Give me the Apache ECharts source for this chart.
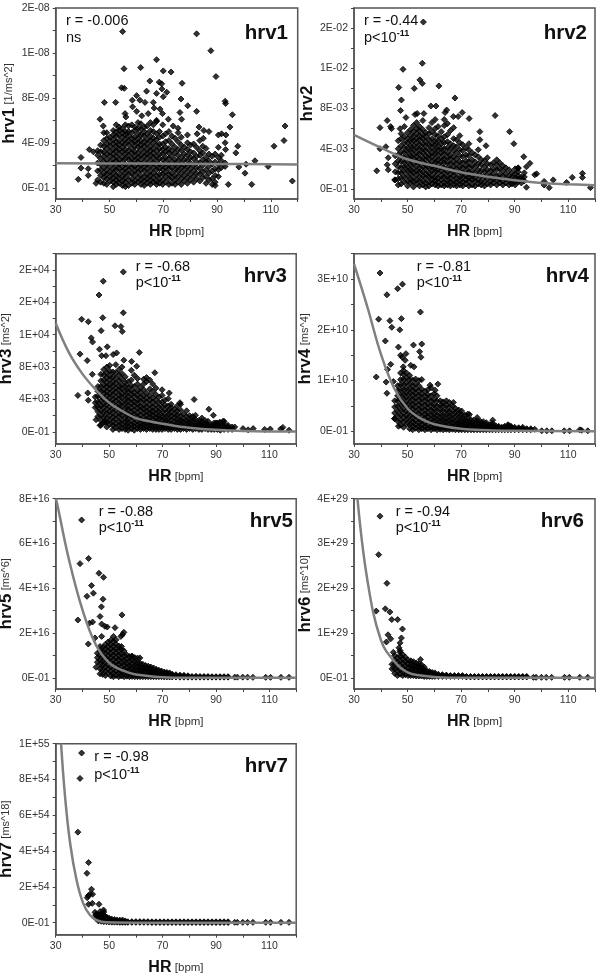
<!DOCTYPE html>
<html><head><meta charset="utf-8">
<style>html,body{margin:0;padding:0;background:#fff}#c{width:600px;height:978px}</style>
<script src="https://cdn.jsdelivr.net/npm/echarts@6/dist/echarts.min.js"></script>
</head><body><div id="c"></div>
<script>
const xMajor=[30,50,70,90,110];
const xTicks=[30,40,50,60,70,80,90,100,110,120];

// ---- hrv1, values in 1e-9 1/ms^2
const hrv1Labels=['0E-01','4E-09','8E-09','1E-08','2E-08'];
const hrv1Major=[0,4,8,12,16];
const hrv1Minor=[0,2,4,6,8,10,12,14,16];
const hrv1Curve=[[30,2.18],[60,2.16],[90,2.12],[120,2.08]];
const hrv1Out=[[54.9,13.9],[82.4,13.7],[87.7,12.2],[55.4,10.6],[61.6,10.7],[67.5,11.4],[70,10.4],[72.9,10.3],[89.6,9.9],[77,9.3],[54.5,8.9],[55.5,8.85],[65,9.5],[68.5,9.4],[69.4,9.25],[63.8,8.6],[67.5,8.4],[69.5,8.8],[71.3,8.5],[70,8.1],[76.6,7.9],[79.1,7.3],[82.4,6.8],[93,7.7],[93.2,7.5],[95.7,6.5],[48.1,7.6],[52.3,7.6],[60.1,8.2],[58.5,7.8],[63.2,7.6],[66.3,7.6],[61.3,7.8],[46.5,6.1],[55.8,6.6],[56.1,6.3],[58.6,7.2],[60.1,6.8],[62,6.4],[64.4,6.6],[66.6,7.1],[68.8,7],[69.7,6.6],[67.5,6],[71.9,6.1],[76.2,6.7],[76.8,6.1],[73.7,5.5],[47.7,5.5],[115.3,5.5],[114.9,4.2],[111.2,3.7],[94.8,5.4],[83.3,5.4],[85.1,5.1],[87,5],[82.6,4.8],[84.9,4.4],[90.5,4.7],[91.7,4.8],[93.3,4.7],[93,4],[93.2,3.4],[90.5,3.6],[97.7,3.7],[97,3.1],[39.4,2.7],[42.5,3.4],[44,3.2],[39.4,1.75],[42.1,1.7],[42.1,1.1],[38.4,.75],[45,.4],[100.8,2.1],[104.1,2.4],[100.4,1.3],[98.1,1.85],[109,1.9],[102.9,.3],[94.2,.3],[118,.6]];
const hrv1Cols=[[45.6,.7,1.5,2.2,2.9,3.3],[46.7,.5,1.1,1.6,2.1,2.6,3.2,3.8],[47.9,.4,.9,1.3,1.8,2.3,2.8,3.2,3.7,4.2,4.9],[49,.3,.8,1.2,1.6,2.1,2.5,3,3.5,3.9,4.4,4.9],[50.2,.6,1,1.4,1.9,2.3,2.8,3.2,3.7,4.1,4.5],[51.4,.1,.5,.9,1.3,1.7,2.2,2.6,3,3.4,3.9,4.3,4.7,5.1],[52.5,.3,.7,1.1,1.6,2,2.4,2.8,3.3,3.7,4.1,4.6,5,5.6],[53.6,.4,.8,1.2,1.7,2.1,2.5,3,3.4,3.8,4.2,4.7,5.1,5.4],[54.8,.2,.6,1,1.5,1.9,2.3,2.7,3.2,3.6,4,4.5,4.9,5.3],[55.9,.1,.5,.9,1.3,1.7,2.1,2.6,3,3.4,3.9,4.3,4.7,5,5.6],[57.1,.2,.7,1.2,1.6,2,2.5,2.9,3.3,3.8,4.2,4.6,5,5.5],[58.3,.4,.8,1.3,1.8,2.2,2.6,3.1,3.5,4,4.4,4.9,5.6],[59.4,.3,.6,1.1,1.5,1.9,2.4,2.8,3.2,3.7,4.1,4.5,5.1,5.4],[60.6,.5,.9,1.4,1.8,2.3,2.7,3.1,3.6,4,4.4,4.8,5.3,5.8],[61.7,.3,.7,1.1,1.6,2,2.5,2.9,3.4,3.8,4.2,4.7,5.2,5.7],[62.9,.2,.6,1,1.5,1.9,2.3,2.8,3.2,3.7,4.1,4.6,5,5.4],[64,.4,.8,1.2,1.7,2.1,2.6,3,3.4,3.9,4.3,4.8,5.5],[65.2,.3,.7,1.1,1.5,2,2.4,2.9,3.3,3.7,4.2,4.6,5.1,5.8],[66.3,.5,.9,1.3,1.8,2.2,2.7,3.1,3.5,4,4.4,5,5.6],[67.5,.3,.6,1.1,1.6,2,2.4,2.8,3.3,3.8,4.3,4.8,5.9],[68.6,.4,.8,1.2,1.7,2.1,2.6,3,3.5,3.9,4.5,5],[69.8,.3,.7,1.2,1.6,2,2.5,3,3.4,3.9,4.6,5.6],[70.9,.5,1,1.4,1.8,2.3,2.7,3.2,3.6,4.1,4.8],[72.1,.3,.8,1.2,1.7,2.1,2.6,3.1,3.5,4.2,5],[73.2,.4,.9,1.3,1.8,2.3,2.8,3.3,3.9,4.6],[74.4,.3,.7,1.1,1.6,2.1,2.5,3.1,3.6,4.4],[75.5,.5,1,1.5,1.9,2.4,2.9,3.4,4.1,4.9,5.3],[76.7,.3,.8,1.3,1.8,2.2,2.7,3.3,3.8,4.5],[77.8,.6,1.1,1.6,2,2.5,3,3.6],[79,.4,.9,1.4,1.9,2.4,2.9,3.4,4,4.7],[80.1,.7,1.2,1.7,2.2,2.7,3.2,3.8],[81.3,.5,1,1.5,2,2.6,3.1,3.9],[82.4,.8,1.3,1.8,2.3,2.8,3.6],[83.6,.6,1.2,1.7,2.2,2.9,3.3,4.2],[84.7,.9,1.4,2,2.5,3.1,3.7],[85.9,.4,1,1.6,2.3,2.7,3.5],[87,.7,1.3,1.9,2.4,3],[88.2,.3,.8,1.5,2.1,2.8],[89.3,.2,.5,1.1,1.7,2.3,3],[90.5,1,1.6,2.1,2.7],[91.6,1.8,2.4,2.9],[93,1.9,2.2]];

// ---- hrv2, values in 1e-3
const hrv2Labels=['0E-01','4E-03','8E-03','1E-02','2E-02'];
const hrv2Major=[0,4,8,12,16];
const hrv2Minor=[0,2,4,6,8,10,12,14,16,18];
const hrv2Curve=[[30,5.37],[40,4.1],[50,2.95],[60,2.3],[70,1.66],[80,1.22],[90,.87],[100,.6],[110,.47],[120,.37]];
const hrv2Out=[[55.9,16.6],[55.5,12.5],[48.3,11.9],[54.6,10.85],[55.5,10.5],[46.7,10.1],[52.5,10],[61.7,10.25],[67.7,9.05],[47.7,8.85],[82.7,7.3],[88.1,5.7],[89.7,4.5],[93.4,3.2],[47.4,7.8],[49.4,7.1],[52.8,7.4],[53.6,7.5],[56.1,7.5],[58.7,8.25],[60.6,8.25],[64.6,7.85],[64,7.6],[70.4,7.6],[68.9,7.2],[73,7],[67.1,7.2],[39.7,6.1],[42.4,6.8],[44,6],[43.7,6.2],[47.2,6],[77,5.7],[77,4.9],[79.3,4.3],[38.5,1.8],[41.9,4.2],[39.7,4],[42.8,3.1],[42.4,2.4],[42.8,1.9],[45.2,.9],[94.4,.17],[102.9,.13],[118.3,.13],[115.3,1.55],[115.3,1.15],[111.5,1.15],[109.4,.65],[104.4,.9],[101,.75],[101,.4],[95.7,2.55],[97.5,1.4],[98.2,1.5],[94.4,2.2],[91.3,2.05]];
const hrv2Cols=[[45.4,.9,1.7,2.5,3.3],[46.5,.4,1,1.6,2.2,2.8,3.4,4,4.8],[47.6,.5,1.1,1.6,2.1,2.7,3.2,3.7,4.3,5,5.5],[48.8,.7,1.2,1.7,2.2,2.6,3.1,3.6,4.1,4.6,5.2,6.2],[50,.3,.8,1.3,1.8,2.2,2.7,3.2,3.7,4.1,4.6,5,5.6],[51.1,.6,1,1.5,1.9,2.4,2.9,3.3,3.8,4.3,4.8,5.3,5.9],[52.2,.2,.7,1.1,1.6,2,2.5,3,3.4,3.9,4.3,4.8,5.2,5.7,6.3],[53.4,.5,.9,1.4,1.8,2.3,2.7,3.2,3.6,4.1,4.6,5,5.5,6,6.6],[54.5,.3,.8,1.2,1.7,2.1,2.6,3,3.5,4,4.4,4.9,5.3,5.8,6.2],[55.7,.4,.8,1.3,1.7,2.2,2.7,3.1,3.6,4,4.5,5,5.4,5.9,6.8],[56.8,.2,.6,1.1,1.5,2,2.4,2.9,3.3,3.8,4.3,4.7,5.2,5.6],[58,.3,.7,1.2,1.6,2.1,2.5,3,3.4,3.9,4.4,4.9,5.5,6.1],[59.1,.5,.9,1.3,1.8,2.2,2.7,3.2,3.6,4.1,4.5,5,5.7,6.6],[60.3,.4,.8,1.2,1.7,2.1,2.6,3,3.5,3.9,4.4,4.8,5.4,6,6.9],[61.4,.3,.7,1.1,1.6,2,2.5,2.9,3.4,3.9,4.3,4.8,5.3,6.2],[62.6,.4,.9,1.3,1.8,2.2,2.7,3.1,3.6,4,4.5,5,5.7],[63.7,.3,.7,1.2,1.6,2.1,2.6,3,3.5,4,4.6,5.2,6.3,6.9],[64.9,.4,.8,1.2,1.7,2.1,2.6,3.1,3.6,4.1,4.7,5.4,6.5],[66,.3,.7,1.1,1.5,2,2.5,3,3.4,4,4.5,5.8],[67.2,.4,.8,1.3,1.7,2.2,2.7,3.2,3.8,4.3,5,6.1],[68.3,.3,.7,1.1,1.6,2,2.5,3,3.6,4.2,4.9],[69.5,.4,.8,1.2,1.7,2.2,2.7,3.3,3.9,4.6,5.3],[70.6,.3,.7,1.2,1.6,2.1,2.6,3.2,3.8,4.4],[71.8,.5,.9,1.3,1.8,2.3,2.8,3.4,4.1],[72.9,.3,.8,1.2,1.7,2.2,2.7,3.3,3.9,4.5],[74.1,.4,.9,1.3,1.8,2.3,2.9,3.6],[75.2,.3,.8,1.2,1.6,2.2,2.7,3.4],[76.4,.5,.9,1.4,1.9,2.5,3.2,3.9],[77.5,.4,.8,1.3,1.8,2.4,2.9],[78.7,.3,.7,1.2,1.7,2.2,2.8],[79.8,.5,1,1.4,1.9,2.5,3.1],[81,.4,.8,1.3,1.8,2.4],[82.1,.6,1,1.5,2,2.6],[83.3,.4,.9,1.3,1.9,2.4,2.9],[84.4,.6,1,1.4,2,2.6],[85.6,.4,.8,1.3,1.8,2.3],[86.7,.6,1,1.5,2.1],[87.9,.4,.9,1.3,1.9],[89,.5,.8,1.2,1.6],[90.2,.4,.7,1.1,1.5,2],[91.3,.7,1,1.3,1.7,2.1],[92.5,.6,.9,1.2],[93.6,.8,1.2,1.6]];

// ---- hrv3, values in 1e3 ms^2
const hrv3Labels=['0E-01','4E+03','8E+03','1E+04','2E+04','2E+04'];
const hrv3Major=[0,4,8,12,16,20];
const hrv3Minor=[0,2,4,6,8,10,12,14,16,18,20,22];
const hrv3Curve=[[30,13.4],[35,9.75],[40,7.16],[45,5.2],[50,3.6],[55,2.55],[60,1.7],[65,1.3],[70,1],[80,.5],[90,.25],[100,.12],[120,.04]];
const hrv3Out=[[55.3,19.75],[47.8,18.6],[46.2,16.9],[55.3,14.7],[39.7,13.9],[42.2,13.6],[47.6,14.1],[52.2,13.1],[54.4,13],[47,12.5],[54.9,12.4],[43.3,11.6],[43.8,11.1],[49.3,10.5],[46.4,10.2],[39.1,9.6],[41.8,8.8],[61.3,9.8],[47.2,9.4],[48.8,9.4],[51.5,9.55],[52.8,9.75],[55.5,8.85],[43.7,7.1],[38.3,4.5],[42,4.8],[42.2,3.9],[58.4,8.7],[60.3,8.1],[67.1,7.3],[81.8,4],[76.5,3.6],[72.5,4.8],[87.3,2.8],[89,2.05],[82.3,2.05],[45.1,1.5],[46.6,.8],[48.4,1.2],[92.6,1.3],[97,.6],[100.1,.4],[102,.25],[103.9,.4],[108.2,.3],[110.3,.35],[114.2,.35],[115,.55],[117.3,.2],[90,1.1],[91.4,1.2]];
const hrv3Cols=[[44.8,3,3.6,4.3],[45.8,1.9,2.5,3.1,3.7,4.4,5,5.6],[46.9,.8,1.4,2,2.6,3.2,3.8,4.4,5,5.6,6.3,7.1],[48,1.2,1.8,2.4,3,3.5,4.1,4.7,5.2,5.8,6.4,7,7.7],[49.1,.6,1.2,1.7,2.3,2.8,3.4,3.9,4.5,5,5.6,6.1,6.7,7.3,8],[50.2,.9,1.4,2,2.5,3.1,3.6,4.2,4.7,5.3,5.8,6.4,6.9,7.5,8.2],[51.4,.3,.8,1.3,1.8,2.4,2.9,3.5,4,4.6,5.1,5.7,6.2,6.8,7.4],[52.5,.5,1,1.6,2.1,2.7,3.2,3.8,4.3,4.9,5.4,6,6.6,7.3,8.3],[53.7,.3,.8,1.3,1.9,2.4,3,3.5,4.1,4.6,5.2,5.7,6.3,7,7.7],[54.8,.4,.9,1.4,2,2.5,3.1,3.6,4.2,4.7,5.3,5.8,6.5,7.2,8],[56,.3,.7,1.2,1.7,2.3,2.8,3.4,3.9,4.5,5,5.6,6.1,6.8],[57.1,.2,.7,1.2,1.7,2.2,2.8,3.3,3.9,4.4,5,5.5,6.2],[58.3,.4,.8,1.3,1.9,2.4,2.9,3.5,4,4.6,5.1,5.7,6.4,7.6],[59.4,.2,.7,1.1,1.7,2.2,2.7,3.3,3.8,4.4,4.9,5.6,7],[60.6,.4,.8,1.3,1.8,2.3,2.9,3.4,3.9,4.5,5.1,5.9,6.6],[61.7,.3,.7,1.1,1.6,2.1,2.7,3.2,3.8,4.3,4.9,5.5],[62.9,.4,.8,1.2,1.7,2.3,2.8,3.3,3.9,4.5,5.2,5.9,6.5],[64,.3,.7,1.1,1.6,2.1,2.6,3.1,3.7,4.2,4.8,6.2,6.7],[65.2,.4,.8,1.2,1.7,2.2,2.7,3.3,3.9,4.5,5.3,6.4],[66.3,.3,.7,1.1,1.6,2.1,2.6,3.1,3.7,4.2,5,5.9],[67.5,.3,.7,1.2,1.7,2.2,2.7,3.3,3.9,4.6,5.4],[68.6,.3,.7,1.1,1.6,2,2.5,3,3.6,4.3],[69.8,.3,.6,1,1.5,2,2.5,3.1,3.7,4.5,5.2],[70.9,.4,.7,1.2,1.6,2.1,2.7,3.3,3.9],[72.1,.3,.7,1.1,1.6,2.1,2.6,3.2,4.1],[73.2,.3,.6,1,1.5,2,2.5,3,3.4],[74.4,.4,.8,1.2,1.7,2.2,2.8],[75.5,.3,.7,1.1,1.6,2.1,2.6,3.2],[76.7,.3,.7,1.1,1.5,2,2.7,3.4],[77.8,.4,.7,1.2,1.6,2.2],[79,.3,.6,1,1.4,1.9,2.6],[80.1,.4,.7,1.1,1.5,2],[81.3,.3,.7,1.1,1.5,1.9],[82.4,.4,.7,1,1.5],[83.6,.3,.7,1,1.4],[84.7,.3,.6,.9,1.3,1.7],[85.9,.4,.7,1,1.4],[87,.3,.6,.9,1.3],[88.2,.3,.6,.9],[89.3,.3,.5,.8,1.1],[90.5,.3,.5,.8,1.1],[91.6,.2,.5,.8,1.1],[93,.3,.6,1,1.3],[94.5,.3,.6,.8],[96,.3,.6]];

// ---- hrv4, values in 1e10 ms^4
const hrv4Labels=['0E-01','1E+10','2E+10','3E+10'];
const hrv4Major=[0,1,2,3];
const hrv4Minor=[0,.5,1,1.5,2,2.5,3,3.5];
const hrv4Curve=[[30,3.3],[35,2.45],[40,1.53],[45,.85],[50,.45],[55,.25],[60,.14],[70,.05],[80,.02],[90,.01],[120,0]];
const hrv4Out=[[39.7,3.12],[42.3,2.69],[46.3,2.81],[48.1,2.9],[54.8,2.35],[39.2,2.21],[43.4,2.18],[47.7,2.22],[44.1,2.05],[47.1,2],[41.7,1.78],[52.2,1.7],[55.3,1.72],[46.6,1.66],[54.5,1.57],[55,1.46],[49.4,1.53],[47.4,1.5],[48,1.46],[49.1,1.4],[43.7,1.32],[42.5,1.22],[38.3,1.07],[42,.97],[44.7,.98],[42.3,.75],[51.2,1.3],[52.4,1.27],[48.4,1.27],[61.3,.93],[58.4,.91],[60.3,.81],[67.1,.57],[73.1,.33],[81.8,.22],[45.1,.25],[46.6,.1],[87.7,.12],[97.5,.04],[100.1,.01],[102,.01],[103.9,.01],[108.5,.01],[110.5,.01],[114.3,.03],[115,.02],[117.3,.01]];
const hrv4Cols=[[45.2,.25,.36,.48,.6],[46.3,.2,.3,.4,.5,.6,.7,.8,.9],[47.4,.12,.22,.32,.42,.52,.62,.72,.82,.92,1.02,1.15],[48.5,.08,.18,.27,.36,.45,.55,.64,.73,.82,.92,1.02,1.12,1.2],[49.6,.14,.23,.31,.4,.49,.58,.67,.76,.85,.95,1.05,1.15],[50.8,.05,.13,.21,.3,.39,.48,.57,.66,.75,.84,.93,1.02,1.1],[51.9,.03,.11,.19,.27,.36,.45,.54,.63,.72,.81,.9,1.01],[53,.06,.13,.21,.3,.38,.47,.56,.65,.74,.83,.93,1.03],[54.2,.03,.1,.18,.26,.35,.44,.53,.62,.71,.8,.9,1],[55.3,.05,.12,.2,.28,.37,.46,.55,.64,.73,.83,1.02],[56.5,.03,.1,.18,.26,.34,.43,.52,.61,.7,.79],[57.6,.05,.12,.2,.28,.36,.45,.54,.63,.72,.82],[58.8,.03,.09,.17,.25,.33,.42,.51,.6,.7,.86],[59.9,.05,.11,.18,.26,.34,.43,.52,.62,.74],[61,.03,.09,.16,.24,.32,.41,.5,.6,.7],[62.2,.04,.1,.17,.25,.33,.42,.51,.6],[63.3,.03,.09,.16,.24,.32,.41,.5,.58],[64.5,.04,.1,.17,.24,.32,.41,.51,.6],[65.6,.03,.08,.15,.23,.31,.39,.48,.57],[66.8,.04,.09,.16,.23,.31,.4,.5],[67.9,.03,.08,.14,.21,.29,.37,.45],[69.1,.03,.08,.14,.2,.27,.35,.42],[70.2,.03,.07,.13,.19,.26,.33,.4],[71.4,.03,.07,.13,.19,.25,.32],[72.5,.03,.07,.12,.18,.25,.34],[73.7,.03,.07,.12,.17,.23],[74.8,.03,.06,.11,.16,.22],[76,.03,.06,.11,.16,.21,.27],[77.1,.03,.06,.1,.15,.2],[78.3,.03,.05,.09,.14,.19],[79.4,.03,.05,.09,.13,.17],[80.6,.03,.05,.09,.13],[81.7,.03,.05,.08,.12,.16],[82.9,.03,.05,.08,.11],[84,.03,.05,.08,.1],[85.2,.03,.05,.08],[86.3,.03,.05,.07,.1],[87.5,.03,.05,.08,.13],[88.6,.03,.05,.08,.1],[90,.03,.05,.08],[91.5,.03,.05,.07],[93,.03,.05,.08],[94.5,.03,.05],[96,.03,.05]];

// ---- hrv5, values in 1e16 ms^6
const hrv5Labels=['0E-01','2E+16','4E+16','6E+16','8E+16'];
const hrv5Major=[0,2,4,6,8];
const hrv5Minor=[0,1,2,3,4,5,6,7,8];
const hrv5Curve=[[30,8],[30.4,7.85],[35,5.26],[40,3.04],[45,1.48],[50,.67],[55,.33],[60,.15],[70,.03],[80,.005],[120,0]];
const hrv5Out=[[39.7,7.05],[42.3,5.33],[39.1,5.1],[46.2,4.67],[47.9,4.49],[43.4,4.12],[41.7,3.64],[44.1,3.78],[47.7,3.51],[47.1,3.17],[46.6,2.74],[54.8,2.81],[38.3,2.58],[42.6,2.44],[43.8,2.49],[47.2,2.4],[48.4,2.3],[49.3,2.27],[52.2,2.24],[55.5,2.03],[54.4,1.85],[55,1.93],[42.2,1.51],[44.7,1.78],[47.2,1.85],[45.1,.47],[46.6,.18],[61.5,.89],[58.4,.96],[97,.03],[98,.03],[100,.03],[101.8,.03],[103.8,.02],[108.6,.02],[110.4,.02],[114.3,.02],[117.3,.02]];
const hrv5Cols=[[45.6,.7,.9,1.1],[46.6,.4,.6,.8,1,1.2,1.4],[47.6,.15,.35,.55,.75,.95,1.15,1.35],[48.6,.1,.3,.5,.7,.9,1.1,1.3,1.5],[49.6,.2,.4,.6,.8,1,1.2,1.4,1.6],[50.6,.08,.28,.48,.68,.88,1.08,1.28,1.48,1.68],[51.6,.05,.22,.42,.62,.82,1.02,1.22,1.42,1.62,1.85],[52.6,.1,.3,.5,.7,.9,1.1,1.3,1.5,1.7],[53.6,.05,.22,.42,.62,.82,1.02,1.22,1.42],[54.6,.08,.26,.46,.66,.86,1.06,1.26,1.4],[55.6,.05,.22,.4,.6,.8,1,1.2],[56.6,.07,.25,.43,.62,.82,1.02],[57.6,.05,.2,.38,.56,.75,.95],[58.6,.06,.22,.4,.58,.78,.97],[59.6,.05,.2,.36,.54,.72,.9],[60.6,.05,.18,.34,.5,.68,.88],[61.6,.05,.17,.32,.48,.65],[62.6,.05,.16,.3,.44,.6],[63.6,.05,.15,.28,.42,.55],[64.6,.05,.14,.26,.38,.52],[65.6,.05,.13,.24,.36,.48],[66.6,.05,.12,.22,.33,.44],[67.6,.05,.11,.2,.3,.38],[68.6,.05,.1,.18,.27,.34],[69.6,.05,.09,.16,.24,.3],[70.6,.04,.08,.14,.2,.26],[71.6,.04,.08,.13,.19,.24],[72.6,.04,.07,.12,.18,.22],[73.6,.04,.07,.11,.16],[75,.04,.06,.1,.14],[76.5,.03,.07,.12],[78,.03,.07,.11],[79.5,.03,.06,.09],[81,.03,.06],[82.5,.03,.07],[84,.03,.06],[85.5,.03,.06],[87,.03,.06],[88.5,.03,.05],[90,.03,.05],[91.5,.03,.05],[93,.03,.05],[94.5,.03,.05]];

// ---- hrv6, values in 1e29 ms^10
const hrv6Labels=['0E-01','1E+29','2E+29','3E+29','4E+29'];
const hrv6Major=[0,1,2,3,4];
const hrv6Minor=[0,.5,1,1.5,2,2.5,3,3.5,4];
const hrv6Curve=[[31.3,4],[35,2.18],[40,.85],[45,.37],[50,.12],[55,.05],[60,.02],[70,0],[120,0]];
const hrv6Out=[[39.7,3.61],[39.2,2.75],[42.3,2.11],[38.3,1.49],[41.7,1.54],[43.4,1.47],[44.1,1.3],[46.3,1.3],[48.1,1.09],[42.7,.96],[43.7,.87],[42.1,.8],[47.7,.89],[47.2,.78],[46.8,.67],[47.2,.61],[44.7,.57],[54.8,.41],[97,.01],[98,.01],[100,.01],[101.8,.01],[103.8,.01],[108.6,.01],[110.4,.01],[114.3,.01],[117.3,.01]];
const hrv6Cols=[[44.2,.2,.3],[45.2,.1,.2,.3,.4,.5],[46.2,.05,.15,.25,.35,.45],[47.2,.08,.18,.28,.38,.48,.57],[48.2,.05,.13,.23,.33,.43,.52],[49.2,.07,.16,.26,.36,.46],[50.2,.05,.13,.22,.31,.4],[51.2,.05,.12,.2,.29,.38],[52.2,.05,.12,.2,.28,.36],[53.2,.04,.1,.18,.26,.33],[54.2,.04,.1,.17,.24,.31],[55.2,.04,.09,.15,.22,.29],[56.2,.03,.08,.13,.18,.24],[57.2,.03,.07,.11,.16],[58.2,.03,.06,.1,.14],[59.2,.03,.06,.09,.12],[60.2,.03,.05,.08,.11],[61.5,.03,.05,.08],[63,.03,.05,.07],[64.5,.03,.05,.06],[66,.03,.05],[67.5,.03,.05],[69,.03,.05],[70.5,.03,.05],[72,.02,.03],[73.5,.02,.03],[75,.02,.03],[76.5,.02,.03],[78,.02,.03],[79.5,.02,.03],[81,.02,.03],[82.5,.02,.03],[84,.02,.03],[85.5,.02,.03],[87,.02,.03],[88.5,.02,.03],[90,.02,.03],[91.5,.02,.03],[93,.02,.03],[94.5,.02,.03]];

// ---- hrv7, values in 1e54 ms^18
const hrv7Labels=['0E-01','2E+54','4E+54','6E+54','8E+54','1E+55'];
const hrv7Major=[0,2,4,6,8,10];
const hrv7Minor=[0,1,2,3,4,5,6,7,8,9,10];
const hrv7Curve=[[32,10],[33.5,7.05],[35.4,4.44],[37.8,2.39],[40.3,1.08],[42.8,.43],[45.3,.15],[49,.02],[60,0],[120,0]];
const hrv7Out=[[39.7,9.48],[39.1,8.06],[38.3,5.06],[42.3,3.36],[41.7,2.76],[43.4,1.87],[42.2,1.51],[43.8,1.59],[42.8,1.59],[41.8,1.4],[46.2,1.03],[42.3,1.03],[43.7,1.08],[47.9,.71],[44.7,.58],[46.6,.62],[47.2,.52],[45.1,.47],[45.9,.43],[47.8,.47],[49,.3],[97,.02],[98,.02],[100,.02],[101.8,.02],[103.8,.02],[108.6,.02],[110.4,.02],[114.3,.02],[117.3,.02]];
const hrv7Cols=[[45,.25,.4],[46,.1,.3,.45],[47,.08,.25,.42],[48,.06,.2,.38,.6],[49,.05,.18,.32],[50,.04,.15,.25],[51,.03,.12,.2],[52,.03,.1,.18],[53,.03,.08,.15],[54,.02,.07,.14],[55,.02,.05,.15],[56,.02,.05,.1],[57,.02,.05],[58.5,.02,.06],[60,.02,.06],[61.5,.02,.06],[63,.02,.06],[64.5,.02,.06],[66,.01,.05],[67.5,.01,.05],[69,.01,.05],[70.5,.01,.05],[72,.01,.05],[73.5,.01,.05],[75,.01,.05],[76.5,.01,.05],[78,.01,.05],[79.5,.01,.05],[81,.01,.05],[82.5,.01,.05],[84,.01,.05],[85.5,.01,.05],[87,.01,.05],[88.5,.01,.05],[90,.01,.05],[91.5,.01,.05],[93,.01,.05],[94.5,.01,.05]];

// ---- panel frames and text placement
const panels=[
 {n:'hrv1',u:'[1/ms^2]',l:hrv1Labels,mj:hrv1Major,mn:hrv1Minor,c:hrv1Curve,o:hrv1Out,k:hrv1Cols,min:-1,max:16,g:[55.7,8,242,191],gap:37,t:[288,33],a:[66,21,38],r:'r = -0.006',p:null},
 {n:'hrv2',u:'',l:hrv2Labels,mj:hrv2Major,mn:hrv2Minor,c:hrv2Curve,o:hrv2Out,k:hrv2Cols,min:-1,max:18,g:[354,8,241,191],gap:36,t:[587,33],a:[364,21,38],r:'r = -0.44',p:1},
 {n:'hrv3',u:'[ms^2]',l:hrv3Labels,mj:hrv3Major,mn:hrv3Minor,c:hrv3Curve,o:hrv3Out,k:hrv3Cols,min:-1.5,max:22,g:[55.7,253.7,240.5,190.3],gap:41,t:[287,276.7],a:[135.7,266.7,283],r:'r = -0.68',p:1},
 {n:'hrv4',u:'[ms^4]',l:hrv4Labels,mj:hrv4Major,mn:hrv4Minor,c:hrv4Curve,o:hrv4Out,k:hrv4Cols,min:-.25,max:3.5,g:[354,253.7,241,190.3],gap:40,t:[589,276.7],a:[416.7,266.7,283],r:'r = -0.81',p:1},
 {n:'hrv5',u:'[ms^6]',l:hrv5Labels,mj:hrv5Major,mn:hrv5Minor,c:hrv5Curve,o:hrv5Out,k:hrv5Cols,min:-.5,max:8,g:[55.7,498.7,240.5,190.3],gap:41,t:[293,521.7],a:[98.7,511.7,528],r:'r = -0.88',p:1},
 {n:'hrv6',u:'[ms^10]',l:hrv6Labels,mj:hrv6Major,mn:hrv6Minor,c:hrv6Curve,o:hrv6Out,k:hrv6Cols,min:-.25,max:4,g:[354,498.7,241,190.3],gap:40,t:[584,521.7],a:[395.7,511.7,528],r:'r = -0.94',p:1},
 {n:'hrv7',u:'[ms^18]',l:hrv7Labels,mj:hrv7Major,mn:hrv7Minor,c:hrv7Curve,o:hrv7Out,k:hrv7Cols,min:-.67,max:10,g:[55.7,743.7,240.5,191],gap:41,t:[288,766.7],a:[94.3,756.7,775],r:'r = -0.98',p:1}
];

const FONT='"Liberation Sans",Arial,sans-serif';
const grid=[],xAxis=[],yAxis=[],series=[],title=[];
panels.forEach((p,i)=>{
  grid.push({show:true,outerBoundsMode:'none',left:p.g[0],top:p.g[1],width:p.g[2],height:p.g[3],borderColor:'#555',borderWidth:1.5,backgroundColor:'#fff'});
  xAxis.push({gridIndex:i,type:'value',min:30,max:120,splitLine:{show:false},
    axisLine:{onZero:false,lineStyle:{color:'#555',width:1.5}},
    axisTick:{length:3,lineStyle:{color:'#444'},customValues:xTicks},
    axisLabel:{customValues:xMajor,color:'#333',fontSize:10.5,fontFamily:FONT,margin:6,hideOverlap:false},
    name:'{b|HR} {u|[bpm]}',nameLocation:'middle',nameGap:25,
    nameTextStyle:{rich:{b:{fontSize:16,fontWeight:'bold',color:'#111',fontFamily:FONT},u:{fontSize:11.5,color:'#333',fontFamily:FONT}}}});
  yAxis.push({gridIndex:i,type:'value',min:p.min,max:p.max,splitLine:{show:false},
    axisLine:{onZero:false,lineStyle:{color:'#555',width:1.5}},
    axisTick:{length:3,lineStyle:{color:'#444'},customValues:p.mn},
    axisLabel:{customValues:p.mj,color:'#333',fontSize:10.5,fontFamily:FONT,margin:6,formatter:v=>p.l[p.mj.indexOf(v)]},
    name:'{b|'+p.n+'}'+(p.u?' {u|'+p.u+'}':''),nameLocation:'middle',nameRotate:90,nameGap:p.gap,
    nameTextStyle:{rich:{b:{fontSize:17,fontWeight:'bold',color:'#111',fontFamily:FONT},u:{fontSize:11,color:'#333',fontFamily:FONT}}}});
  const pts=p.o.slice();
  p.k.forEach(col=>col.slice(1).forEach(y=>pts.push([col[0],y])));
  series.push({type:'scatter',xAxisIndex:i,yAxisIndex:i,data:pts,symbol:'diamond',symbolSize:6,itemStyle:{color:'#000',borderColor:'#000',borderWidth:1},silent:true,animation:false,z:2});
  series.push({type:'line',xAxisIndex:i,yAxisIndex:i,data:p.c,smooth:.4,showSymbol:false,lineStyle:{color:'#808080',width:2.5},silent:true,animation:false,z:3});
  title.push({left:p.t[0],top:p.t[1],text:p.n,textAlign:'right',textVerticalAlign:'middle',textStyle:{fontFamily:FONT,fontSize:20.5,fontWeight:'bold',color:'#111'},padding:0});
  title.push({left:p.a[0],top:p.a[1],text:p.r,textVerticalAlign:'middle',padding:0,textStyle:{fontFamily:FONT,fontSize:14.5,color:'#111',fontWeight:'normal'}});
  title.push({left:p.a[0],top:p.a[2],text:p.p?'{t|p<10}{s|-11}':'{t|ns}',textVerticalAlign:'middle',padding:0,
    textStyle:{fontFamily:FONT,fontWeight:'normal',rich:{t:{fontFamily:FONT,fontSize:14.5,fontWeight:'normal',color:'#111',lineHeight:18},s:{fontFamily:FONT,fontSize:9,fontWeight:'bold',color:'#111',verticalAlign:'top',lineHeight:14}}}});
});
const chart=echarts.init(document.getElementById('c'),null,{renderer:'canvas'});
chart.setOption({animation:false,backgroundColor:'#fff',grid,xAxis,yAxis,series,title});
</script></body></html>
